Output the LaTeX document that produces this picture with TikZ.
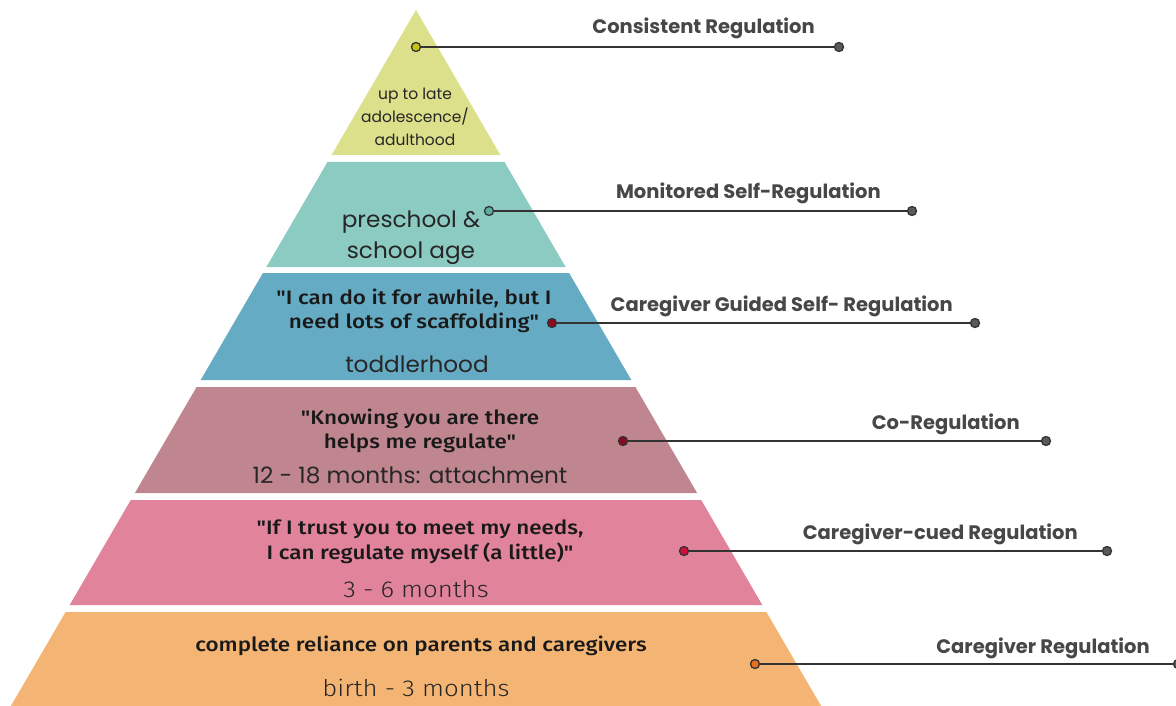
\documentclass[tikz,border=0pt]{standalone}
\usepackage{fontspec}
\setmainfont{Poppins}
\newfontfamily\labelfont{Poppins}
\newfontfamily\topfont{Poppins}
\newfontfamily\midfont[FakeStretch=1.03]{Poppins}
\newfontfamily\quotefont[FakeStretch=1.15]{Fira Sans Medium}
\newfontfamily\agefont[FakeStretch=1.12]{Fira Sans Light}
\definecolor{lay1}{HTML}{DDE08A}
\definecolor{lay2}{HTML}{8BCBC1}
\definecolor{lay3}{HTML}{66ABC4}
\definecolor{lay4}{HTML}{C0868F}
\definecolor{lay5}{HTML}{E0839B}
\definecolor{lay6}{HTML}{F4B574}
\definecolor{labgrey}{HTML}{474747}
\definecolor{linegrey}{HTML}{333333}
\definecolor{dotyel}{HTML}{C8C40E}
\definecolor{dotteal}{HTML}{5BAE9F}
\definecolor{dotred}{HTML}{8B0A1E}
\definecolor{dotpink}{HTML}{D0103A}
\definecolor{dotorange}{HTML}{E87020}
\definecolor{enddot}{HTML}{5A5A5A}
\begin{document}
\begin{tikzpicture}[x=1pt,y=-1pt,
  dotnode/.style={circle,draw=linegrey,line width=1.3pt,minimum size=9pt,inner sep=0pt},
  conn/.style={draw=linegrey,line width=1.4pt},
  lab/.style={anchor=base east,font=\labelfont\bfseries\fontsize{19.5}{22}\selectfont,text=labgrey,inner sep=0pt},
  agetext/.style={align=center,font=\midfont\fontsize{22.5}{31}\selectfont,text=black!85,inner sep=0pt},
  quotetext/.style={align=center,font=\quotefont\fontsize{19.5}{24}\selectfont,text=black!90,inner sep=0pt}]
\clip (0,0) rectangle (1176,706);
\fill[white] (0,0) rectangle (1176,706);
% layers
\fill[lay1] (416,10) -- (500.4,155) -- (331.6,155) -- cycle;
\fill[lay2] (327.5,162) -- (504.5,162) -- (565.6,267) -- (266.4,267) -- cycle;
\fill[lay3] (262.9,273) -- (569.1,273) -- (631.3,380) -- (200.7,380) -- cycle;
\fill[lay4] (196.6,387) -- (635.4,387) -- (697.1,493) -- (134.9,493) -- cycle;
\fill[lay5] (130.8,500) -- (701.2,500) -- (762.3,605) -- (69.7,605) -- cycle;
\fill[lay6] (65.6,612) -- (766.4,612) -- (821.1,706) -- (10.9,706) -- cycle;
% texts
\node[agetext,font=\topfont\fontsize{15.5}{23}\selectfont] (t1) at (415,117) {up to late\\adolescence/\\adulthood};
\node[agetext] (t2) at (411,238) {preschool \&\\school age};
\node[quotetext] (q3) at (414,311) {"I can do it for awhile, but I\\need lots of scaffolding"};
\node[agetext] (a3) at (417,364) {toddlerhood};
\node[quotetext] (q4) at (420,431) {"Knowing you are there\\helps me regulate"};
\node[agetext] (a4) at (410,475) {12 - 18 months: attachment};
\node[quotetext,font=\quotefont\fontsize{19.5}{25}\selectfont] (q5) at (420,542) {"If I trust you to meet my needs,\\I can regulate myself (a little)"};
\node[agetext,font=\agefont\fontsize{23}{30}\selectfont] (a5) at (416,589) {3 - 6 months};
\node[quotetext] (q6) at (421,646) {complete reliance on parents and caregivers};
\node[agetext,font=\agefont\fontsize{23}{30}\selectfont] (a6) at (416,688) {birth - 3 months};
% dots and connectors
\node[dotnode,fill=dotyel] (d1) at (416,47) {};
\node[dotnode,fill=enddot] (e1) at (839,47) {};
\node[dotnode,fill=dotteal] (d2) at (489,211) {};
\node[dotnode,fill=enddot] (e2) at (912,211) {};
\node[dotnode,fill=dotred] (d3) at (552,323) {};
\node[dotnode,fill=enddot] (e3) at (975,323) {};
\node[dotnode,fill=dotred] (d4) at (623,441) {};
\node[dotnode,fill=enddot] (e4) at (1046,441) {};
\node[dotnode,fill=dotpink] (d5) at (684,551) {};
\node[dotnode,fill=enddot] (e5) at (1107,551) {};
\node[dotnode,fill=dotorange] (d6) at (755,664) {};
\node[dotnode,fill=enddot] (e6) at (1178,664) {};
\draw[conn] (d1) -- (e1);
\draw[conn] (d2) -- (e2);
\draw[conn] (d3) -- (e3);
\draw[conn] (d4) -- (e4);
\draw[conn] (d5) -- (e5);
\draw[conn] (d6) -- (e6);
% labels
\node[lab] (l1) at (815,34) {Consistent Regulation};
\node[lab] (l2) at (881,199) {Monitored Self-Regulation};
\node[lab] (l3) at (953,311) {Caregiver Guided Self- Regulation};
\node[lab] (l4) at (1020,429) {Co-Regulation};
\node[lab] (l5) at (1078,539) {Caregiver-cued Regulation};
\node[lab] (l6) at (1150,653) {Caregiver Regulation};
\end{tikzpicture}
\end{document}
